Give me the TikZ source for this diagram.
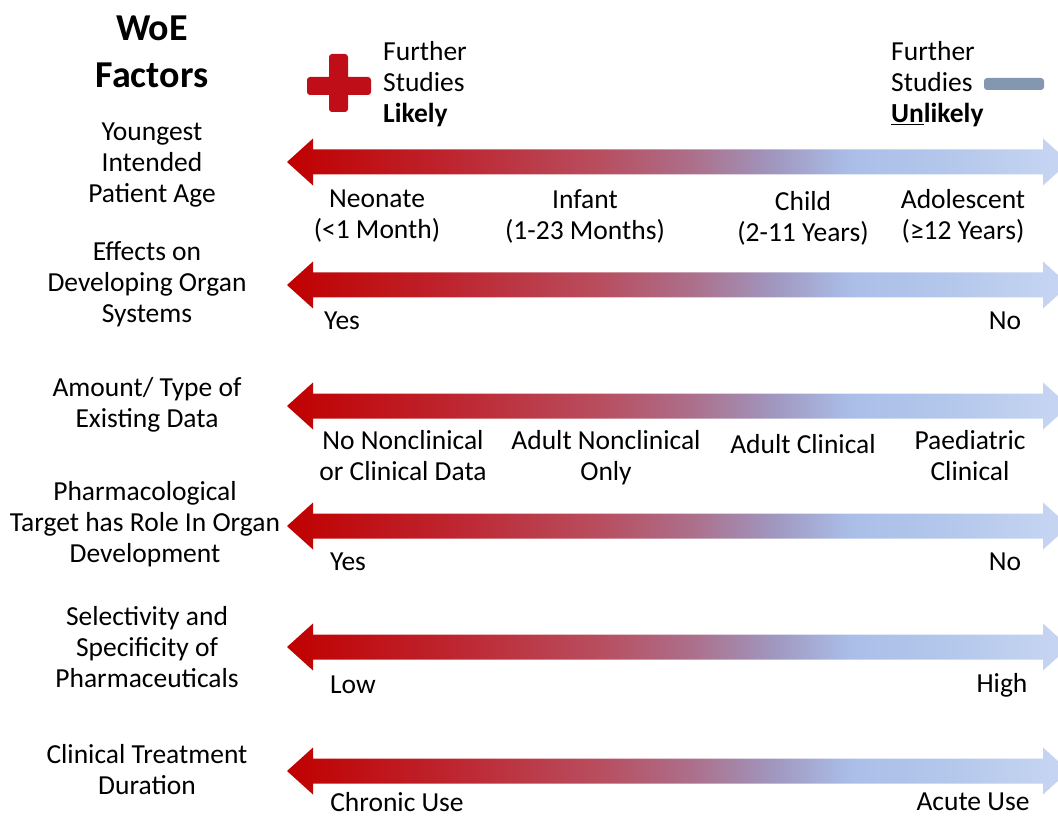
\documentclass[tikz,border=0pt]{standalone}
\usepackage{fontspec}
\setmainfont{Carlito}
\definecolor{likelyred}{RGB}{192,14,24}
\definecolor{unlikelyblue}{RGB}{132,151,176}
% red (left) to pale blue (right), stops between 25bp and 75bp
\pgfdeclarehorizontalshading{redtoblue}{100bp}{rgb(0bp)=(0.753,0,0); rgb(25bp)=(0.753,0,0); rgb(35bp)=(0.745,0.137,0.176); rgb(45bp)=(0.722,0.306,0.373); rgb(51bp)=(0.675,0.439,0.549); rgb(56bp)=(0.627,0.588,0.745); rgb(61bp)=(0.667,0.745,0.910); rgb(67.5bp)=(0.706,0.784,0.925); rgb(75bp)=(0.784,0.839,0.949); rgb(100bp)=(0.784,0.839,0.949)}
\begin{document}
\begin{tikzpicture}[x=1pt,y=-1pt,
    every node/.style={font=\fontsize{27.5}{31}\selectfont, inner sep=0pt},
    factor/.style={align=center},
    ticktext/.style={align=center},
    headtext/.style={align=left, anchor=west}]
  \useasboundingbox (0,0) rectangle (1058,818);
  \clip (0,0) rectangle (1058,818);

  % scale arrows
  \foreach \c in {162,285,406,526,647,771}{
    \shade[shading=redtoblue] (287,\c) -- (313,\c-23.5) -- (313,\c-12.5) -- (1043,\c-12.5)
      -- (1043,\c-23.5) -- (1069,\c) -- (1043,\c+23.5) -- (1043,\c+12.5)
      -- (313,\c+12.5) -- (313,\c+23.5) -- cycle;
  }

  % plus and minus signs
  \fill[likelyred, rounded corners=3pt] (307,77) rectangle (371,95) (329,54) rectangle (348,112);
  \fill[unlikelyblue, rounded corners=3pt] (984,78) rectangle (1044,90);

  \node[font=\fontsize{38}{47}\selectfont\bfseries, align=center] (title) at (152,52) {WoE\\Factors};
  \node[headtext] (likely) at (383,84) {Further\\Studies\\\textbf{Likely}};
  \node[headtext] (unlikely) at (891,84) {Further\\Studies\\\textbf{\underline{Un}likely}};

  % factors
  \node[factor] (age) at (152,165) {Youngest\\Intended\\Patient Age};
  \node[factor] (organs) at (147,284) {Effects on\\Developing Organ\\Systems};
  \node[factor] (data) at (147,405) {Amount/ Type of\\Existing Data};
  \node[factor] (target) at (145,524) {Pharmacological\\Target has Role In Organ\\Development};
  \node[factor] (select) at (147,647) {Selectivity and\\Specificity of\\Pharmaceuticals};
  \node[factor] (duration) at (147,770) {Clinical Treatment\\Duration};

  % scale points
  \node[ticktext] (neonate) at (377,216) {Neonate\\(<1 Month)};
  \node[ticktext] (infant) at (585,216) {Infant\\(1-23 Months)};
  \node[ticktext] (child) at (803,218) {Child\\(2-11 Years)};
  \node[ticktext] (adol) at (963,216) {Adolescent\\(≥12 Years)};

  \node[ticktext] (yesorg) at (342,321) {Yes};
  \node[ticktext] (noorg) at (1005,321) {No};

  \node[ticktext] (nodata) at (403,456) {No Nonclinical\\or Clinical Data};
  \node[ticktext] (adultnc) at (606,458) {Adult Nonclinical\\Only};
  \node[ticktext] (adultcl) at (803,444) {Adult Clinical};
  \node[ticktext] (paed) at (970,456) {Paediatric\\Clinical};

  \node[ticktext] (yestgt) at (348,562) {Yes};
  \node[ticktext] (notgt) at (1005,562) {No};

  \node[ticktext] (low) at (353,685) {Low};
  \node[ticktext] (high) at (1002,685) {High};

  \node[ticktext] (chronic) at (397,802) {Chronic Use};
  \node[ticktext] (acute) at (973,802) {Acute Use};
\end{tikzpicture}
\end{document}
